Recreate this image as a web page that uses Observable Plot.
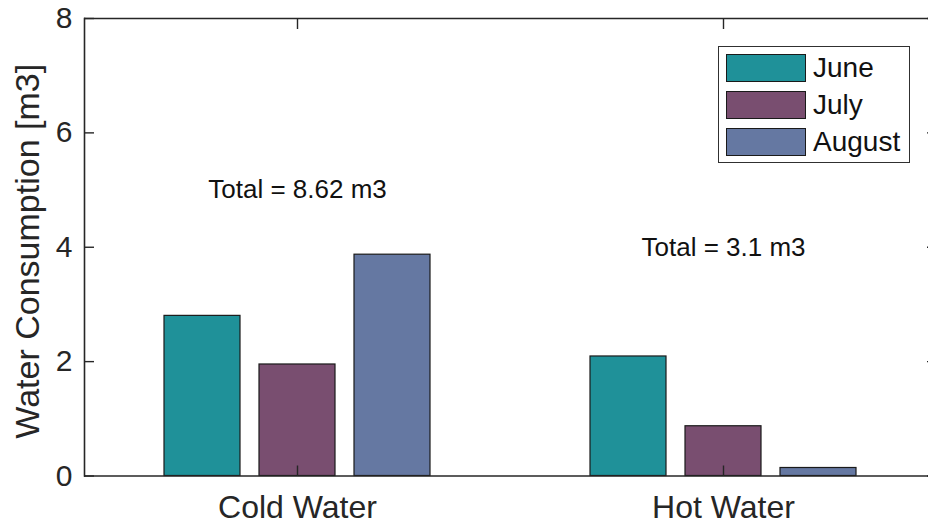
<!DOCTYPE html>
<html>
<head>
<meta charset="utf-8">
<script src="https://cdn.jsdelivr.net/npm/d3@7"></script>
<script src="https://cdn.jsdelivr.net/npm/@observablehq/plot@0.6"></script>
<style>
  html, body { margin: 0; padding: 0; background: #fff; overflow: hidden; }
  #wrap { position: relative; width: 928px; height: 524px; overflow: hidden; }
  #chart svg { max-width: none !important; }
  #legend {
    position: absolute; left: 718px; top: 46px; width: 192px; height: 117px;
    border: 1.2px solid #303030; background: #fff; box-sizing: border-box;
    font-family: "Liberation Sans", Arial, sans-serif; font-size: 28px; color: #111;
  }
  .item { position: absolute; left: 7px; height: 28px; display: flex; align-items: center; }
  .sw { width: 80px; height: 28px; border: 1.3px solid #1a1a1a; box-sizing: border-box; margin-right: 7px; }
</style>
</head>
<body>
<div id="wrap">
  <div id="chart"></div>
  <div id="legend"></div>
</div>
<script>
const categories = ["Cold Water", "Hot Water"];
const months = ["June", "July", "August"];
const coldValues = [2.80, 1.95, 3.87];
const hotValues = [2.09, 0.87, 0.14];
const totalLabels = ["Total = 8.62 m3", "Total = 3.1 m3"];
const totalLabelY = [5, 4];
const yTicks = [0, 2, 4, 6, 8];
const monthColors = ["#1F9199", "#794E70", "#6578A2"];
const yLabel = "Water Consumption [m3]";

const seriesByCategory = [coldValues, hotValues];
const rows = categories.flatMap((c, i) =>
  months.map((m, j) => ({category: c, month: m, value: seriesByCategory[i][j]}))
);
const annotations = categories.map((c, i) => ({category: c, y: totalLabelY[i], text: totalLabels[i]}));

const ink = "#262626";
const chart = Plot.plot({
  width: 940,
  height: 524,
  marginLeft: 84,
  marginRight: 4,
  marginTop: 18,
  marginBottom: 48.5,
  style: {fontFamily: "'Liberation Sans', Arial, sans-serif", color: ink, background: "white"},
  fx: {domain: categories, padding: 0, axis: null, label: null},
  x: {domain: months, paddingInner: 0.2, paddingOuter: 0.819, axis: null, label: null},
  y: {domain: [0, 8], axis: null, label: null},
  color: {domain: months, range: monthColors},
  marks: [
    Plot.barY(rows, {fx: "category", x: "month", y: "value", fill: "month", stroke: "#1a1a1a", strokeWidth: 1.2}),
    Plot.text(annotations, {fx: "category", y: "y", text: "text", fontSize: 26, fill: "#111"}),
    Plot.ruleY([0, 8], {stroke: ink, strokeWidth: 1.6}),
    Plot.frame({anchor: "left", facetAnchor: "left", stroke: ink, strokeWidth: 1.6}),
    Plot.frame({anchor: "right", facetAnchor: "right", stroke: ink, strokeWidth: 1.6}),
    Plot.axisY({ticks: yTicks, tickSize: -10, tickPadding: 22, fontSize: 30, label: null, tickFormat: d => String(d), strokeWidth: 1.4}),
    Plot.axisY({anchor: "right", ticks: yTicks, tickSize: -10, tickFormat: () => "", label: null, strokeWidth: 1.4}),
    Plot.axisFx({anchor: "bottom", tickSize: -10, tickPadding: 29, fontSize: 32, label: null, strokeWidth: 1.4}),
    Plot.axisFx({anchor: "top", tickSize: -10, tickFormat: () => "", label: null, strokeWidth: 1.4}),
    Plot.text([yLabel], {frameAnchor: "left", facetAnchor: "left", rotate: -90, textAnchor: "middle", dx: -56, dy: 4, fontSize: 34, text: d => d, fill: ink})
  ]
});
document.getElementById("chart").appendChild(chart);

const legend = document.getElementById("legend");
months.forEach((m, i) => {
  const item = document.createElement("div");
  item.className = "item";
  item.style.top = (7 + i * 37) + "px";
  const sw = document.createElement("div");
  sw.className = "sw";
  sw.style.background = monthColors[i];
  const label = document.createElement("span");
  label.textContent = m;
  item.appendChild(sw);
  item.appendChild(label);
  legend.appendChild(item);
});
</script>
</body>
</html>
